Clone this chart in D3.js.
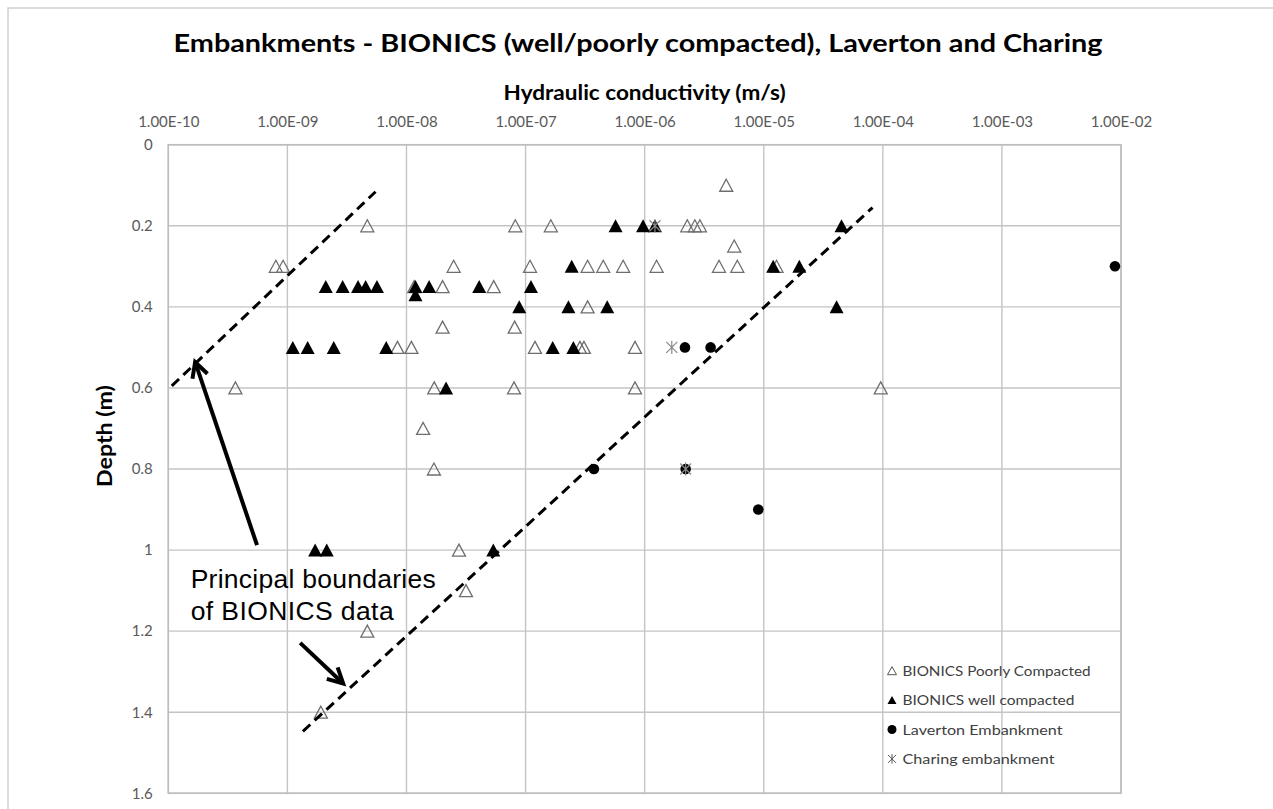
<!DOCTYPE html>
<html>
<head>
<meta charset="utf-8">
<script src="https://cdn.jsdelivr.net/npm/d3@7"></script>
<style>
  html, body { margin: 0; padding: 0; background: #fff; }
  svg { display: block; }
</style>
</head>
<body>
<svg id="chart" width="1273" height="809"></svg>
<script>
// ---------------- DATA ----------------
const chartTitle = "Embankments - BIONICS (well/poorly compacted), Laverton and Charing";
const xAxisTitle = "Hydraulic conductivity (m/s)";
const yAxisTitle = "Depth (m)";

const xTickValues = [1e-10, 1e-9, 1e-8, 1e-7, 1e-6, 1e-5, 1e-4, 1e-3, 1e-2];
const xTickLabels = ["1.00E-10","1.00E-09","1.00E-08","1.00E-07","1.00E-06","1.00E-05","1.00E-04","1.00E-03","1.00E-02"];
const yTickValues = [0, 0.2, 0.4, 0.6, 0.8, 1.0, 1.2, 1.4, 1.6];
const yTickLabels = ["0","0.2","0.4","0.6","0.8","1","1.2","1.4","1.6"];

// [hydraulic conductivity (m/s), depth (m)]
const poorlyCompacted = [
  [4.84e-6, 0.1],
  [4.69e-9, 0.2], [8.2e-8, 0.2], [1.63e-7, 0.2], [2.28e-6, 0.2], [2.64e-6, 0.2], [2.91e-6, 0.2],
  [5.65e-6, 0.25],
  [8.0e-10, 0.3], [9.2e-10, 0.3], [2.49e-8, 0.3], [1.09e-7, 0.3], [3.32e-7, 0.3], [4.49e-7, 0.3],
  [6.6e-7, 0.3], [1.26e-6, 0.3], [4.21e-6, 0.3], [6.0e-6, 0.3], [1.28e-5, 0.3],
  [1.16e-8, 0.35], [2.01e-8, 0.35], [5.4e-8, 0.35],
  [3.32e-7, 0.4],
  [2.01e-8, 0.45], [8.1e-8, 0.45],
  [8.4e-9, 0.5], [1.1e-8, 0.5], [1.2e-7, 0.5], [2.86e-7, 0.5], [3.09e-7, 0.5], [8.3e-7, 0.5],
  [3.66e-10, 0.6], [1.71e-8, 0.6], [8.0e-8, 0.6], [8.3e-7, 0.6], [9.6e-5, 0.6],
  [1.38e-8, 0.7],
  [1.70e-8, 0.8],
  [2.76e-8, 1.0],
  [3.16e-8, 1.1],
  [4.69e-9, 1.2],
  [1.91e-9, 1.4]
];
const wellCompacted = [
  [5.7e-7, 0.2], [9.7e-7, 0.2], [1.22e-6, 0.2], [4.5e-5, 0.2],
  [2.44e-7, 0.3], [1.2e-5, 0.3], [1.99e-5, 0.3],
  [2.1e-9, 0.35], [2.91e-9, 0.35], [3.92e-9, 0.35], [4.54e-9, 0.35], [5.65e-9, 0.35],
  [1.19e-8, 0.35], [1.55e-8, 0.35], [4.08e-8, 0.35], [1.11e-7, 0.35],
  [1.19e-8, 0.37],
  [8.85e-8, 0.4], [2.29e-7, 0.4], [4.85e-7, 0.4], [4.09e-5, 0.4],
  [1.11e-9, 0.5], [1.48e-9, 0.5], [2.45e-9, 0.5], [6.76e-9, 0.5], [1.69e-7, 0.5], [2.52e-7, 0.5],
  [2.15e-8, 0.6],
  [1.71e-9, 1.0], [2.14e-9, 1.0], [5.36e-8, 1.0]
];
const lavertonEmbankment = [
  [8.9e-3, 0.3], [2.18e-6, 0.5], [3.58e-6, 0.5], [3.75e-7, 0.8], [2.21e-6, 0.8], [9.0e-6, 0.9]
];
const charingEmbankment = [
  [1.22e-6, 0.2], [1.69e-6, 0.5], [2.21e-6, 0.8]
];

const legendLabels = ["BIONICS Poorly Compacted", "BIONICS well compacted", "Laverton Embankment", "Charing embankment"];

// Boundary lines (dashed) and annotation arrows, in data coordinates
const upperBoundary = [[1.07e-10, 0.595], [5.5e-9, 0.116]];
const lowerBoundary = [[1.35e-9, 1.447], [8.2e-5, 0.155]];
const arrows = [
  [[5.56e-10, 0.988], [1.68e-10, 0.536]],
  [[1.28e-9, 1.229], [2.94e-9, 1.329]]
];
const annotationLines = ["Principal boundaries", "of BIONICS data"];
const annotationAnchor = [1.54e-10, 1.094];

// ---------------- DRAW ----------------
const svg = d3.select("#chart");
const W = 1273, H = 809;
const plot = { left: 168.3, right: 1121, top: 144.7, bottom: 793.3 };

const x = d3.scaleLog().domain([1e-10, 1e-2]).range([plot.left, plot.right]);
const y = d3.scaleLinear().domain([0, 1.6]).range([plot.top, plot.bottom]);

const calibri = "Lato, 'Open Sans', sans-serif";

// outer chart border
svg.append("rect").attr("x", 8).attr("y", 8).attr("width", W + 20).attr("height", H + 20)
  .attr("fill", "#fff").attr("stroke", "#d0d0d0").attr("stroke-width", 1.5);

function fit(sel, w) {
  sel.attr("textLength", w).attr("lengthAdjust", "spacingAndGlyphs");
  return sel;
}

// title
fit(svg.append("text").attr("x", 638).attr("y", 52).attr("text-anchor", "middle")
  .attr("font-family", calibri).attr("font-weight", "bold").attr("font-size", 25)
  .attr("fill", "#000").text(chartTitle), 929);

// x axis title
fit(svg.append("text").attr("x", 644.6).attr("y", 100).attr("text-anchor", "middle")
  .attr("font-family", calibri).attr("font-weight", "bold").attr("font-size", 21)
  .attr("fill", "#000").text(xAxisTitle), 282);

// y axis title
fit(svg.append("text").attr("transform", "translate(112,436) rotate(-90)").attr("text-anchor", "middle")
  .attr("font-family", calibri).attr("font-weight", "bold").attr("font-size", 21)
  .attr("fill", "#000").text(yAxisTitle), 102);

// gridlines
const grid = svg.append("g").attr("stroke", "#c4c4c4").attr("stroke-width", 1.4);
grid.selectAll("line.v").data(xTickValues).join("line").attr("class", "v")
  .attr("x1", d => x(d)).attr("x2", d => x(d)).attr("y1", plot.top).attr("y2", plot.bottom);
grid.selectAll("line.h").data(yTickValues).join("line").attr("class", "h")
  .attr("x1", plot.left).attr("x2", plot.right).attr("y1", d => y(d)).attr("y2", d => y(d));
svg.append("rect").attr("x", plot.left).attr("y", plot.top)
  .attr("width", plot.right - plot.left).attr("height", plot.bottom - plot.top)
  .attr("fill", "none").attr("stroke", "#bdbdbd").attr("stroke-width", 1.5);

// axes
const xAxis = d3.axisTop(x).tickValues(xTickValues).tickFormat((d, i) => xTickLabels[i])
  .tickSize(0).tickPadding(17.5);
const gx = svg.append("g").attr("transform", `translate(0,${plot.top})`).call(xAxis);
gx.select(".domain").remove();
gx.selectAll("text").attr("font-family", calibri).attr("font-size", 15).attr("fill", "#595959");

const yAxis = d3.axisLeft(y).tickValues(yTickValues).tickFormat((d, i) => yTickLabels[i])
  .tickSize(0).tickPadding(15.6);
const gy = svg.append("g").attr("transform", `translate(${plot.left},0)`).call(yAxis);
gy.select(".domain").remove();
gy.selectAll("text").attr("font-family", calibri).attr("font-size", 15).attr("fill", "#595959");

// marker shapes
function triPath(w, h) { return `M0,${-h/2}L${w/2},${h/2}L${-w/2},${h/2}Z`; }
function starPath(r) {
  return `M${-r},${-r}L${r},${r}M${-r},${r}L${r},${-r}M0,${-r*1.2}L0,${r*1.2}`;
}

const marks = svg.append("g");
marks.selectAll("path.poor").data(poorlyCompacted).join("path").attr("class", "poor")
  .attr("transform", d => `translate(${x(d[0])},${y(d[1])})`)
  .attr("d", triPath(13, 12)).attr("fill", "none").attr("stroke", "#6e6e6e").attr("stroke-width", 1.3);
marks.selectAll("path.well").data(wellCompacted).join("path").attr("class", "well")
  .attr("transform", d => `translate(${x(d[0])},${y(d[1])})`)
  .attr("d", triPath(14, 13)).attr("fill", "#000");
marks.selectAll("circle.lav").data(lavertonEmbankment).join("circle").attr("class", "lav")
  .attr("cx", d => x(d[0])).attr("cy", d => y(d[1])).attr("r", 5.3).attr("fill", "#000");
marks.selectAll("path.char").data(charingEmbankment).join("path").attr("class", "char")
  .attr("transform", d => `translate(${x(d[0])},${y(d[1])})`)
  .attr("d", starPath(5.5)).attr("fill", "none").attr("stroke", "#8a8a8a").attr("stroke-width", 1.2);

// boundary dashed lines
const line = d3.line().x(d => x(d[0])).y(d => y(d[1]));
[upperBoundary, lowerBoundary].forEach(b => {
  svg.append("path").attr("d", line(b)).attr("fill", "none").attr("stroke", "#000")
    .attr("stroke-width", 3).attr("stroke-dasharray", "10,6");
});

// arrows
arrows.forEach(a => {
  const x0 = x(a[0][0]), y0 = y(a[0][1]), x1 = x(a[1][0]), y1 = y(a[1][1]);
  const ang = Math.atan2(y1 - y0, x1 - x0);
  const L = 17, spread = Math.PI / 6.5;
  const g = svg.append("g").attr("stroke", "#000").attr("stroke-width", 4).attr("fill", "none")
    .attr("stroke-linecap", "butt");
  g.append("line").attr("x1", x0).attr("y1", y0).attr("x2", x1).attr("y2", y1);
  g.append("path").attr("stroke-linejoin", "miter")
    .attr("d", `M${x1 - L*Math.cos(ang - spread)},${y1 - L*Math.sin(ang - spread)}L${x1},${y1}L${x1 - L*Math.cos(ang + spread)},${y1 - L*Math.sin(ang + spread)}`);
});

// annotation text
const annWidths = [245, 203];
const ann = svg.append("g").attr("font-family", "'Liberation Sans', Arial, sans-serif")
  .attr("font-size", 26.5).attr("fill", "#000");
annotationLines.forEach((t, i) => {
  ann.append("text").attr("x", x(annotationAnchor[0])).attr("y", y(annotationAnchor[1]) + i * 32)
    .attr("textLength", annWidths[i]).attr("lengthAdjust", "spacing").text(t);
});

// legend (no box; grid shows through)
const legX = 892, legY0 = 675.7, legDy = 29.4;
const legWidths = [188, 172, 160, 152];
const leg = svg.append("g");
legendLabels.forEach((lab, i) => {
  const cy = legY0 + i * legDy - 5;
  const gm = leg.append("g").attr("transform", `translate(${legX},${cy})`);
  if (i === 0) gm.append("path").attr("d", triPath(9, 8)).attr("fill", "none").attr("stroke", "#555").attr("stroke-width", 1);
  if (i === 1) gm.append("path").attr("d", triPath(9, 8)).attr("fill", "#000");
  if (i === 2) gm.append("circle").attr("r", 4.5).attr("fill", "#000");
  if (i === 3) gm.append("path").attr("d", starPath(4)).attr("fill", "none").attr("stroke", "#555").attr("stroke-width", 1);
  fit(leg.append("text").attr("x", 902.5).attr("y", legY0 + i * legDy)
    .attr("font-family", calibri).attr("font-size", 14).attr("fill", "#404040").text(lab), legWidths[i]);
});
</script>
</body>
</html>
